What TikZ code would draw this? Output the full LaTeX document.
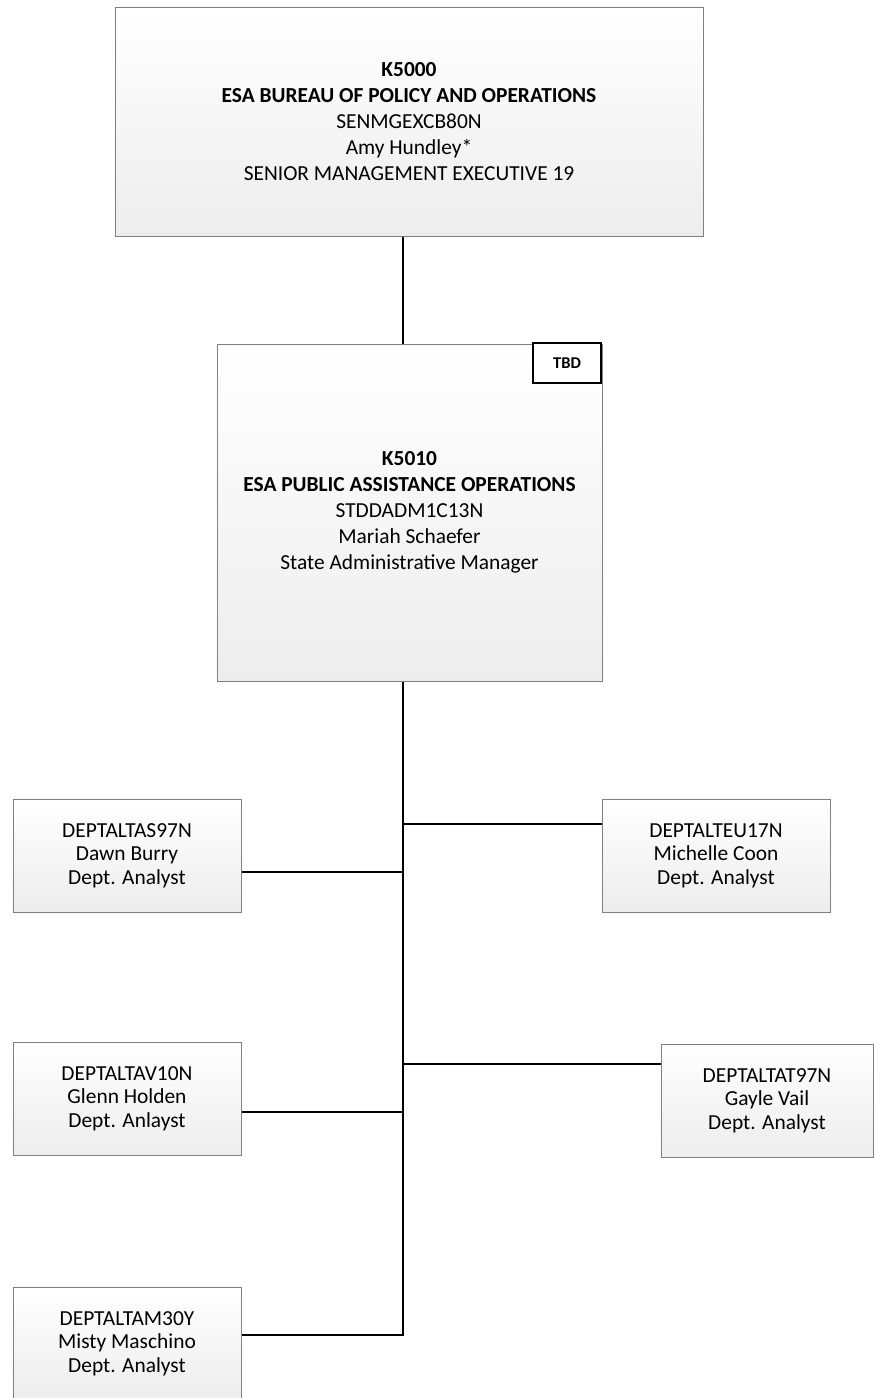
\documentclass[tikz,border=0pt]{standalone}
\usepackage{fontspec}
\setmainfont{Carlito}
\tikzset{
  orgbox/.style={draw=black!50, line width=1pt, top color=white, bottom color=black!7,
    shading angle=0, rectangle, align=center, inner sep=0pt},
  bigtext/.style={font=\fontsize{21.4}{26}\selectfont},
  smalltext/.style={font=\fontsize{21.4}{23.5}\selectfont},
  tbdbox/.style={draw=black, line width=1.3pt, fill=white, inner sep=0pt,
    minimum width=68pt, minimum height=40pt, font=\bfseries\fontsize{16.5}{18}\selectfont},
  conn/.style={draw=black, line width=2pt}
}
\begin{document}
\begin{tikzpicture}[x=1pt,y=-1pt]
\useasboundingbox (0,0) rectangle (874,1398);
\begin{scope}
\clip (0,0) rectangle (874,1398);
\node[orgbox,bigtext,minimum width=588pt,minimum height=229pt] (top) at (409,121.5)
  {\textbf{K5000}\\\textbf{ESA BUREAU OF POLICY AND OPERATIONS}\\SENMGEXCB80N\\Amy Hundley*\\SENIOR MANAGEMENT EXECUTIVE 19};
\node[orgbox,bigtext,minimum width=385pt,minimum height=337pt] (mid) at (409.5,512.5)
  {\textbf{K5010}\\\textbf{ESA PUBLIC ASSISTANCE OPERATIONS}\\STDDADM1C13N\\Mariah Schaefer\\State Administrative Manager};
\node[tbdbox] (tbd) at (567,363) {TBD};
\node[orgbox,smalltext,minimum width=228pt,minimum height=113pt] (L1) at (127,855.5)
  {DEPTALTAS97N\\Dawn Burry\\Dept. Analyst};
\node[orgbox,smalltext,minimum width=228pt,minimum height=113pt] (R1) at (716,855.5)
  {DEPTALTEU17N\\Michelle Coon\\Dept. Analyst};
\node[orgbox,smalltext,minimum width=228pt,minimum height=113pt] (L2) at (127,1098.5)
  {DEPTALTAV10N\\Glenn Holden\\Dept. Anlayst};
\node[orgbox,smalltext,minimum width=212pt,minimum height=113pt] (R2) at (767,1100.5)
  {DEPTALTAT97N\\Gayle Vail\\Dept. Analyst};
\node[orgbox,smalltext,minimum width=228pt,minimum height=113pt] (L3) at (127,1343.5)
  {DEPTALTAM30Y\\Misty Maschino\\Dept. Analyst};
\end{scope}
\coordinate (t) at (403,0);
\coordinate (yr1) at (0,824);
\coordinate (yl1) at (0,872);
\coordinate (yr2) at (0,1064);
\coordinate (yl2) at (0,1112);
\coordinate (yl3) at (0,1335);
\draw[conn] (top.south -| t) -- (mid.north -| t);
\draw[conn] (mid.south -| t) -- (t |- yl3) -- (L3.east |- yl3);
\draw[conn] (t |- yr1) -- (R1.west |- yr1);
\draw[conn] (t |- yl1) -- (L1.east |- yl1);
\draw[conn] (t |- yr2) -- (R2.west |- yr2);
\draw[conn] (t |- yl2) -- (L2.east |- yl2);
\end{tikzpicture}
\end{document}
